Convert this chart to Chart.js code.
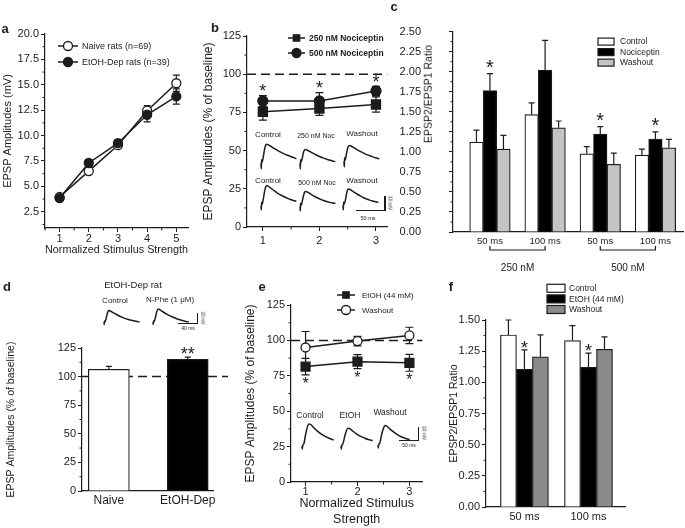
<!DOCTYPE html>
<html>
<head>
<meta charset="utf-8">
<script src="https://cdn.jsdelivr.net/npm/chart.js@4.4.1/dist/chart.umd.min.js"></script>
<style>
  body { margin: 0; width: 685px; height: 528px; position: relative; overflow: hidden; background: #fff;
         font-family: "Liberation Sans", Arial, sans-serif; color: #1c1c1c; }
  canvas { position: absolute; }
  .t { position: absolute; white-space: nowrap; line-height: 1; transform: translate(-50%, -50%);
       will-change: transform; color: #1c1c1c; }
  .lab { font-weight: bold; }
  .rot { transform: translate(-50%, -50%) rotate(90deg); }
  .rotl { transform: translate(-50%, -50%) rotate(-90deg); }
  .sb { position: absolute; background: #1c1c1c; }
</style>
</head>
<body>
<script>
const ink = '#1c1c1c';

// ---- a: input/output curves
const aX = [1, 2, 3, 4, 5];
const aYTicks = [2.5, 5, 7.5, 10, 12.5, 15, 17.5, 20];
const aNaive = [3.95, 6.5, 9.05, 12.45, 15.15];
const aNaiveErr = [0.25, 0.25, 0.3, 0.5, 0.8];
const aEtoh = [3.85, 7.3, 9.25, 12.05, 13.85];
const aEtohErr = [0.25, 0.3, 0.35, 0.7, 0.75];

// ---- b: nociceptin, % of baseline
const bX = [1, 2, 3];
const pctTicks = [0, 25, 50, 75, 100, 125];
const b250 = [75.4, 77.5, 80.2];
const b250Err = [5.5, 4.5, 5];
const b500 = [82.5, 82.5, 89];
const b500Err = [3.5, 5.5, 3];
const b500Stars = ['*', '*', '*'];

// ---- c: paired pulse ratio with nociceptin
const cLabels = ['50 ms', '100 ms', '50 ms', '100 ms'];
const cGroups = ['250 nM', '500 nM'];
const cGroupOf = [0, 0, 1, 1];
const cYTicks = [0, 0.25, 0.5, 0.75, 1, 1.25, 1.5, 1.75, 2, 2.25, 2.5];
const cControl = [1.12, 1.465, 0.975, 0.96];
const cControlErr = [0.15, 0.145, 0.09, 0.075];
const cNoc = [1.765, 2.02, 1.22, 1.16];
const cNocErr = [0.21, 0.37, 0.095, 0.09];
const cWash = [1.035, 1.3, 0.845, 1.05];
const cWashErr = [0.17, 0.085, 0.14, 0.105];
const cNocStars = ['*', '', '*', '*'];

// ---- d: N-Phe
const dLabels = ['Naive', 'EtOH-Dep'];
const dValues = [106.4, 115];
const dErr = [2.6, 2];
const dStars = ['', '**'];

// ---- e: ethanol
const eX = [1, 2, 3];
const eEtoh = [81.5, 85, 84.2];
const eEtohErr = [5.8, 5, 6];
const eWash = [95, 99.5, 103.5];
const eWashErr = [11.3, 3.4, 5.8];
const eEtohStars = ['*', '*', '*'];

// ---- f: paired pulse ratio with ethanol
const fLabels = ['50 ms', '100 ms'];
const fYTicks = [0, 0.25, 0.5, 0.75, 1, 1.25, 1.5];
const fControl = [1.38, 1.335];
const fControlErr = [0.12, 0.12];
const fEtoh = [1.105, 1.12];
const fEtohErr = [0.155, 0.115];
const fWash = [1.205, 1.265];
const fWashErr = [0.175, 0.1];
const fEtohStars = ['*', '*'];

// ---- example EPSP traces (ms, mV)
const bTime = [0, 0.5, 1, 2, 4, 6, 8, 10, 12, 16, 20, 25, 30, 35, 40, 45, 50, 55, 60];
const bCtrlTop = [0, -4, 2.5, 1, 5, 10, 13, 13.6, 13.3, 12.3, 11.2, 9.9, 8.7, 7.6, 6.6, 5.7, 4.9, 4.1, 3.2];
const bNoc250 = [0, -4, 2.5, 1, 4, 8, 9.6, 9.8, 9.5, 8.6, 7.6, 6.5, 5.4, 4.5, 3.7, 3, 2.3, 1.7, 1.2];
const bWashTop = [0, -4, 2.5, 1, 5, 9, 11, 11.2, 10.9, 9.9, 8.8, 7.6, 6.5, 5.5, 4.6, 3.8, 3, 2.3, 1.7];
const bCtrlBot = [0, -3, 2.5, 1, 5, 10, 13.6, 14.3, 14, 12.8, 11.4, 9.9, 8.5, 7.3, 6.2, 5.2, 4.4, 3.7, 3.1];
const bNoc500 = [0, -3, 2.5, 1, 4, 8, 10.5, 10.9, 10.6, 9.6, 8.5, 7.3, 6.2, 5.2, 4.4, 3.7, 3.1, 2.7, 2.4];
const bWashBot = [0, -3, 2.5, 1, 4, 8.5, 11.4, 11.9, 11.6, 10.5, 9.3, 8, 6.8, 5.7, 4.8, 4, 3.3, 2.8, 2.4];
const dTime = [0, 0.5, 1, 2, 4, 6, 8, 10, 12, 15, 20, 30, 40, 50, 60, 70, 75];
const dCtrl = [0, -2, 1.5, 0.5, 3, 7, 10.5, 12, 11.8, 11, 9.6, 7, 4.9, 3.2, 1.9, 0.9, 0.5];
const dNPhe = [0, -2, 1.5, 0.5, 3, 7, 11, 13.2, 13.4, 12.6, 11, 8.1, 5.7, 3.7, 2.2, 1.1, 0.6];
const eTime = [0, 1, 2, 4, 7, 10, 14, 18, 22, 30, 40, 50, 60, 70, 82];
const eCtrl = [0, -2.5, 1, 1, 5, 10, 15, 17.2, 17, 14.5, 11.6, 9.3, 7.5, 6, 4.7];
const eEtohTr = [0, -2.5, 1, 1, 4, 8, 12, 13.9, 13.7, 11.8, 9.5, 7.7, 6.3, 5.1, 4.2];
const eWashTr = [0, -2.5, 1, 1, 4.5, 9, 13, 15.2, 15, 12.8, 10.2, 8.1, 6.4, 5.2, 4.2];

Chart.defaults.font.family = '"Liberation Sans", Arial, sans-serif';
Chart.defaults.color = ink;

const pts = (xs, ys) => xs.map((x, i) => ({ x, y: ys[i] }));
const idx = ys => ys.map((y, i) => ({ x: i + 1, y }));

// ---------- plugins
const errorBars = {
  id: 'errorBars',
  beforeDatasetsDraw(chart) {
    const { ctx } = chart;
    const y = chart.scales.y;
    chart.data.datasets.forEach((ds, i) => {
      if (!ds.errors) return;
      const meta = chart.getDatasetMeta(i);
      const cap = ds.errCap || 3;
      ctx.save();
      ctx.strokeStyle = ink;
      ctx.lineWidth = 1.2;
      meta.data.forEach((el, j) => {
        const v = ds.data[j].y, e = ds.errors[j];
        const top = y.getPixelForValue(v + e);
        const bot = y.getPixelForValue(ds.errBoth ? v - e : v);
        ctx.beginPath();
        ctx.moveTo(el.x, top); ctx.lineTo(el.x, bot);
        ctx.moveTo(el.x - cap, top); ctx.lineTo(el.x + cap, top);
        if (ds.errBoth) { ctx.moveTo(el.x - cap, bot); ctx.lineTo(el.x + cap, bot); }
        ctx.stroke();
      });
      ctx.restore();
    });
  }
};

const stars = {
  id: 'stars',
  afterDatasetsDraw(chart) {
    const { ctx } = chart;
    const y = chart.scales.y;
    chart.data.datasets.forEach((ds, i) => {
      if (!ds.stars) return;
      const meta = chart.getDatasetMeta(i);
      const fs = ds.starSize || 16;
      ctx.save();
      ctx.fillStyle = ink;
      ctx.textAlign = 'center';
      ctx.textBaseline = 'alphabetic';
      ctx.font = fs + 'px "Liberation Sans", Arial, sans-serif';
      meta.data.forEach((el, j) => {
        if (!ds.stars[j]) return;
        const v = ds.data[j].y, e = ds.errors ? ds.errors[j] : 0;
        const c = ds.starBelow
          ? y.getPixelForValue(v - e) + ds.starGap
          : y.getPixelForValue(v + e) - ds.starGap;
        ctx.fillText(ds.stars[j], el.x, c + 0.57 * fs);
      });
      ctx.restore();
    });
  }
};

const refLine = {
  id: 'refLine',
  beforeDatasetsDraw(chart, args, o) {
    if (!o || o.value == null) return;
    const { ctx, chartArea: ca } = chart;
    const py = chart.scales.y.getPixelForValue(o.value);
    ctx.save();
    ctx.strokeStyle = ink;
    ctx.lineWidth = 1.5;
    ctx.setLineDash([9, 5]);
    ctx.beginPath();
    ctx.moveTo(ca.left, py);
    ctx.lineTo(ca.right + (o.extend || 0), py);
    ctx.stroke();
    ctx.restore();
  }
};

const minorTicks = {
  id: 'minorTicks',
  afterDraw(chart, args, o) {
    if (!o || !o.axes) return;
    const { ctx, chartArea: ca } = chart;
    ctx.save();
    ctx.strokeStyle = ink;
    ctx.lineWidth = 1;
    o.axes.forEach(id => {
      const s = chart.scales[id];
      const vals = s.ticks.map(t => t.value);
      const step = vals[1] - vals[0];
      for (let v = vals[0] - step / 2; v <= s.max; v += step) {
        if (v < s.min) continue;
        const p = s.getPixelForValue(v);
        ctx.beginPath();
        if (id === 'y') { ctx.moveTo(ca.left, p); ctx.lineTo(ca.left - 2.5, p); }
        else { ctx.moveTo(p, ca.bottom); ctx.lineTo(p, ca.bottom + 2.5); }
        ctx.stroke();
      }
    });
    ctx.restore();
  }
};

const insetLegend = {
  id: 'insetLegend',
  afterDraw(chart, args, o) {
    if (!o || o.x == null) return;
    const { ctx, chartArea: ca } = chart;
    ctx.save();
    ctx.font = (o.bold ? 'bold ' : '') + (o.fs || 9) + 'px "Liberation Sans", Arial, sans-serif';
    ctx.textBaseline = 'middle';
    ctx.textAlign = 'left';
    chart.data.datasets.forEach((ds, i) => {
      const x = ca.left + o.x, y = ca.top + o.y + i * o.dy;
      let tx;
      if (chart.config.type === 'bar') {
        ctx.fillStyle = ds.backgroundColor;
        ctx.strokeStyle = ink;
        ctx.lineWidth = 1.2;
        ctx.fillRect(x, y - o.bh / 2, o.bw, o.bh);
        ctx.strokeRect(x, y - o.bh / 2, o.bw, o.bh);
        tx = x + o.bw + o.gap;
      } else {
        ctx.strokeStyle = ink;
        ctx.lineWidth = 1.5;
        ctx.beginPath(); ctx.moveTo(x, y); ctx.lineTo(x + o.len, y); ctx.stroke();
        ctx.fillStyle = ds.pointBackgroundColor;
        ctx.strokeStyle = ds.pointBorderColor;
        ctx.lineWidth = ds.pointBorderWidth;
        Chart.helpers.drawPoint(ctx, { pointStyle: ds.pointStyle, radius: o.r || ds.pointRadius,
          borderWidth: ds.pointBorderWidth, rotation: 0 }, x + o.len / 2, y);
        tx = x + o.len + o.gap;
      }
      ctx.fillStyle = ink;
      ctx.fillText(ds.label, tx, y + 0.5);
    });
    ctx.restore();
  }
};

const brackets = {
  id: 'brackets',
  afterDraw(chart, args, o) {
    if (!o || !o.groups) return;
    const { ctx, chartArea: ca } = chart;
    const x = chart.scales.x;
    ctx.save();
    ctx.strokeStyle = ink;
    ctx.fillStyle = ink;
    ctx.lineWidth = 1.2;
    ctx.font = o.fs + 'px "Liberation Sans", Arial, sans-serif';
    ctx.textAlign = 'center';
    ctx.textBaseline = 'middle';
    o.groups.forEach((g, gi) => {
      const members = o.member.map((m, k) => (m === gi ? k : -1)).filter(k => k >= 0);
      const x0 = x.getPixelForValue(members[0] + 1);
      const x1 = x.getPixelForValue(members[members.length - 1] + 1);
      const yb = ca.bottom + o.dy;
      ctx.beginPath();
      ctx.moveTo(x0, yb - o.tick); ctx.lineTo(x0, yb); ctx.lineTo(x1, yb); ctx.lineTo(x1, yb - o.tick);
      ctx.stroke();
      ctx.fillText(g, (x0 + x1) / 2, yb + o.ldy);
    });
    ctx.restore();
  }
};

Chart.register(errorBars, stars, refLine, minorTicks, insetLegend, brackets);

// ---------- helpers
function axis(o) {
  return {
    type: 'linear', min: o.min, max: o.max, offset: false,
    afterBuildTicks: s => { s.ticks = o.ticks.map(v => ({ value: v })); },
    afterFit: s => { if (o.w) s.width = o.w; if (o.h) s.height = o.h; },
    ticks: { callback: o.fmt, color: ink, font: { size: o.fs || 11 }, padding: o.tp == null ? 2 : o.tp,
             autoSkip: false, maxRotation: 0 },
    grid: { drawOnChartArea: false, drawTicks: o.tl !== 0, tickLength: o.tl || 4, color: ink, offset: false },
    border: { color: ink, width: 1.2 },
    title: { display: !!o.title, text: o.title, color: ink, font: { size: o.ts || 11, lineHeight: o.lh || 1.2 },
             padding: { top: 0, bottom: o.tpad || 0 } }
  };
}

function options(pad, x, y, plugins) {
  return {
    responsive: false, animation: false, events: [], devicePixelRatio: 1,
    layout: { padding: pad },
    scales: { x, y },
    plugins: Object.assign({ legend: { display: false }, tooltip: { enabled: false } }, plugins)
  };
}

function place(left, top, w, h, cfg) {
  const cv = document.createElement('canvas');
  cv.width = w; cv.height = h;
  cv.style.left = left + 'px'; cv.style.top = top + 'px';
  document.body.appendChild(cv);
  return new Chart(cv, cfg);
}

function txt(s, x, y, fs, cls) {
  const d = document.createElement('div');
  d.className = 't ' + (cls || '');
  d.textContent = s;
  d.style.left = x + 'px'; d.style.top = y + 'px'; d.style.fontSize = fs + 'px';
  document.body.appendChild(d);
}

function bar(x, y, w, h) {
  const d = document.createElement('div');
  d.className = 'sb';
  d.style.left = x + 'px'; d.style.top = y + 'px'; d.style.width = w + 'px'; d.style.height = h + 'px';
  document.body.appendChild(d);
}

function trace(left, base, times, values, pxMs, pxMv) {
  const vMax = Math.max(...values) + 1.5, vMin = Math.min(...values) - 1.5;
  const w = Math.round((times[times.length - 1] + 2) * pxMs) + 2;
  const h = Math.round((vMax - vMin) * pxMv);
  place(left - 1, base - vMax * pxMv, w, h, {
    type: 'line',
    data: { datasets: [{ data: pts(times, values), borderColor: ink, borderWidth: 1.5, pointRadius: 0,
                         cubicInterpolationMode: 'monotone' }] },
    options: {
      responsive: false, animation: false, events: [], devicePixelRatio: 1, layout: { padding: 0 },
      plugins: { legend: { display: false }, tooltip: { enabled: false } },
      scales: { x: { type: 'linear', display: false, min: -1 / pxMs, max: (w - 1) / pxMs },
                y: { type: 'linear', display: false, min: vMin, max: vMin + h / pxMv } }
    }
  });
}

const lineSet = (label, xs, ys, errs, style, filled, r, extra) => Object.assign({
  label, data: pts(xs, ys), errors: errs, errBoth: true, errCap: 3.5,
  borderColor: ink, borderWidth: 1.5, pointStyle: style, pointRadius: r,
  pointBackgroundColor: filled ? ink : '#fff', pointBorderColor: ink, pointBorderWidth: 1.3
}, extra || {});

const barSet = (label, ys, errs, color, thick, extra) => Object.assign({
  label, data: idx(ys), errors: errs, errCap: 3, backgroundColor: color,
  borderColor: ink, borderWidth: 1.2, barThickness: thick
}, extra || {});

// ---------- panel a
place(0, 14, 200, 252, {
  type: 'line',
  data: { datasets: [
    lineSet('Naive rats (n=69)', aX, aNaive, aNaiveErr, 'circle', false, 4.5, { order: 1 }),
    lineSet('EtOH-Dep rats (n=39)', aX, aEtoh, aEtohErr, 'circle', true, 4.5, { order: 0 })
  ] },
  options: options({ top: 20, left: 1, right: 12, bottom: 0 },
    axis({ min: 0.5, max: 5.4, ticks: aX, fmt: v => String(v), h: 38, tp: 0,
           title: 'Normalized Stimulus Strength', ts: 11, tpad: 9 }),
    axis({ min: 0.9, max: 20, ticks: aYTicks, fmt: v => v.toFixed(1), w: 44,
           title: 'EPSP Amplitudes (mV)', ts: 11 }),
    { minorTicks: { axes: ['x', 'y'] },
      insetLegend: { x: 13, y: 12, dy: 16, len: 20, gap: 4, fs: 9 } })
});

// ---------- panel b
place(200, 14, 195, 240, {
  type: 'line',
  data: { datasets: [
    lineSet('250 nM Nociceptin', bX, b250, b250Err, 'rect', true, 6.4, { errCap: 4 }),
    lineSet('500 nM Nociceptin', bX, b500, b500Err, 'circle', true, 5,
            { errCap: 4, stars: b500Stars, starGap: 9, starSize: 18 })
  ] },
  options: options({ top: 22, left: 1, right: 7, bottom: 0 },
    axis({ min: 0.72, max: 3.2, ticks: bX, fmt: v => String(v), h: 27, tp: 3 }),
    axis({ min: 0, max: 125, ticks: pctTicks, fmt: v => String(v), w: 46,
           title: 'EPSP Amplitudes (% of baseline)', ts: 12 }),
    { refLine: { value: 100 }, minorTicks: { axes: ['x', 'y'] },
      insetLegend: { x: 41, y: 2, dy: 15, len: 17, gap: 4, fs: 8.5, bold: true, r: 4.5 } })
});

// ---------- panel c (its y title sits between the tick labels and the axis)
place(390, -3, 295, 290, {
  type: 'bar',
  data: { datasets: [
    barSet('Control', cControl, cControlErr, '#ffffff', 13.5),
    barSet('Nociceptin', cNoc, cNocErr, '#000000', 13.5, { stars: cNocStars, starGap: 11, starSize: 20 }),
    barSet('Washout', cWash, cWashErr, '#c4c4c4', 13.5)
  ] },
  options: options({ top: 8, left: 2, right: 2, bottom: 0 },
    axis({ min: 0.33, max: 4.5, ticks: [1, 2, 3, 4], fmt: v => cLabels[v - 1], h: 55, tl: 0, tp: 4, fs: 9.5 }),
    axis({ min: 0, max: 2.5, ticks: cYTicks, fmt: v => v.toFixed(2), w: 61, tp: 28 }),
    { minorTicks: { axes: ['y'] },
      insetLegend: { x: 145, y: 10, dy: 10.5, bw: 16, bh: 7, gap: 6, fs: 8.5 },
      brackets: { groups: cGroups, member: cGroupOf, dy: 18, tick: 4, ldy: 18, fs: 10 } })
});
txt('EPSP2/EPSP1 Ratio', 427.5, 94, 10.5, 'rotl');

// ---------- panel d
place(0, 330, 230, 198, {
  type: 'bar',
  data: { datasets: [
    barSet('N-Phe', dValues, dErr, ['#ffffff', '#000000'], 41, { stars: dStars, starGap: 7, starSize: 18 })
  ] },
  options: options({ top: 18, left: 5, right: 17, bottom: 0 },
    axis({ min: 0.66, max: 2.32, ticks: [1, 2], fmt: v => dLabels[v - 1], h: 37, tl: 0, tp: 2, fs: 12 }),
    axis({ min: 0, max: 125, ticks: pctTicks, fmt: v => String(v), w: 77,
           title: 'EPSP Amplitudes (% of baseline)', ts: 10.5 }),
    { refLine: { value: 100, extend: 15 }, minorTicks: { axes: ['y'] } })
});

// ---------- panel e
place(225, 285, 205, 243, {
  type: 'line',
  data: { datasets: [
    lineSet('EtOH (44 mM)', eX, eEtoh, eEtohErr, 'rect', true, 6.3,
            { errCap: 4, stars: eEtohStars, starBelow: true, starGap: 5, starSize: 16 }),
    lineSet('Washout', eX, eWash, eWashErr, 'circle', false, 4.5, { errCap: 4 })
  ] },
  options: options({ top: 20, left: 18.8, right: 7, bottom: 0 },
    axis({ min: 0.72, max: 3.25, ticks: eX, fmt: v => String(v), h: 46, tp: -1,
           title: ['Normalized Stimulus', 'Strength'], ts: 12.5, lh: 1.28, tpad: 0 }),
    axis({ min: 0, max: 125, ticks: pctTicks, fmt: v => String(v), w: 47.2,
           title: 'EPSP Amplitudes (% of baseline)', ts: 12 }),
    { refLine: { value: 100 }, minorTicks: { axes: ['x', 'y'] },
      insetLegend: { x: 46, y: -10, dy: 15, len: 18, gap: 7, fs: 8, r: 4.5 } })
});

// ---------- panel f
place(445, 280, 190, 248, {
  type: 'bar',
  data: { datasets: [
    barSet('Control', fControl, fControlErr, '#ffffff', 16),
    barSet('EtOH (44 mM)', fEtoh, fEtohErr, '#000000', 16, { stars: fEtohStars, starGap: 6.5, starSize: 18 }),
    barSet('Washout', fWash, fWashErr, '#8a8a8a', 16)
  ] },
  options: options({ top: 40, left: 3, right: 10, bottom: 0 },
    axis({ min: 0.4, max: 2.57, ticks: [1, 2], fmt: v => fLabels[v - 1], h: 21, tl: 0, tp: 3, fs: 11 }),
    axis({ min: 0, max: 1.5, ticks: fYTicks, fmt: v => v.toFixed(2), w: 38,
           title: 'EPSP2/EPSP1 Ratio', ts: 10.5 }),
    { minorTicks: { axes: ['y'] },
      insetLegend: { x: 61, y: -31.7, dy: 10.6, bw: 18, bh: 8, gap: 4, fs: 8.5 } })
});

// ---------- traces and annotations
trace(260.7, 163, bTime, bCtrlTop, 0.59, 1.4);
trace(300, 163, bTime, bNoc250, 0.59, 1.4);
trace(344, 162, bTime, bWashTop, 0.59, 1.4);
trace(260.7, 206, bTime, bCtrlBot, 0.59, 1.4);
trace(300, 206.5, bTime, bNoc500, 0.59, 1.4);
trace(343, 206, bTime, bWashBot, 0.59, 1.4);
trace(104.3, 322.7, dTime, dCtrl, 0.475, 1);
trace(153.3, 322.7, dTime, dNPhe, 0.475, 1);
trace(301.7, 446, eTime, eCtrl, 0.386, 1.27);
trace(340.7, 446, eTime, eEtohTr, 0.386, 1.27);
trace(378.3, 445.3, eTime, eWashTr, 0.386, 1.27);

txt('Control', 268, 135, 8); txt('250 nM Noc', 316, 135, 7); txt('Washout', 362, 134, 8);
txt('Control', 268, 181, 8); txt('500 nM Noc', 317, 182, 7); txt('Washout', 362, 181, 8);
bar(356, 209.5, 29, 1.2); bar(384.4, 196, 1.2, 14.7);
txt('50 ms', 368, 219, 5.5); txt('10 mV', 390, 203, 5, 'rot');

txt('EtOH-Dep rat', 133, 285, 9.5); txt('Control', 115, 300.5, 8); txt('N-Phe (1 \u03bcM)', 170, 300, 8);
bar(178, 322.8, 19.5, 1.1); bar(196.9, 313, 1.1, 10.9);
txt('40 ms', 188, 327.5, 5); txt('10 mV', 202, 318, 4.5, 'rot');

txt('Control', 310, 415, 8.5); txt('EtOH', 350, 415, 8.5); txt('Washout', 390, 411.5, 8.5);
bar(399, 439.5, 19.5, 1.1); bar(417.8, 427, 1.1, 13.6);
txt('50 ms', 409, 445, 5); txt('10 mV', 423.5, 433, 5, 'rot');

txt('a', 5, 28, 13, 'lab'); txt('b', 215, 26.5, 13, 'lab'); txt('c', 394, 5.5, 13, 'lab');
txt('d', 7, 286, 13, 'lab'); txt('e', 262, 286, 13, 'lab'); txt('f', 451, 285.5, 13, 'lab');
</script>
</body>
</html>
